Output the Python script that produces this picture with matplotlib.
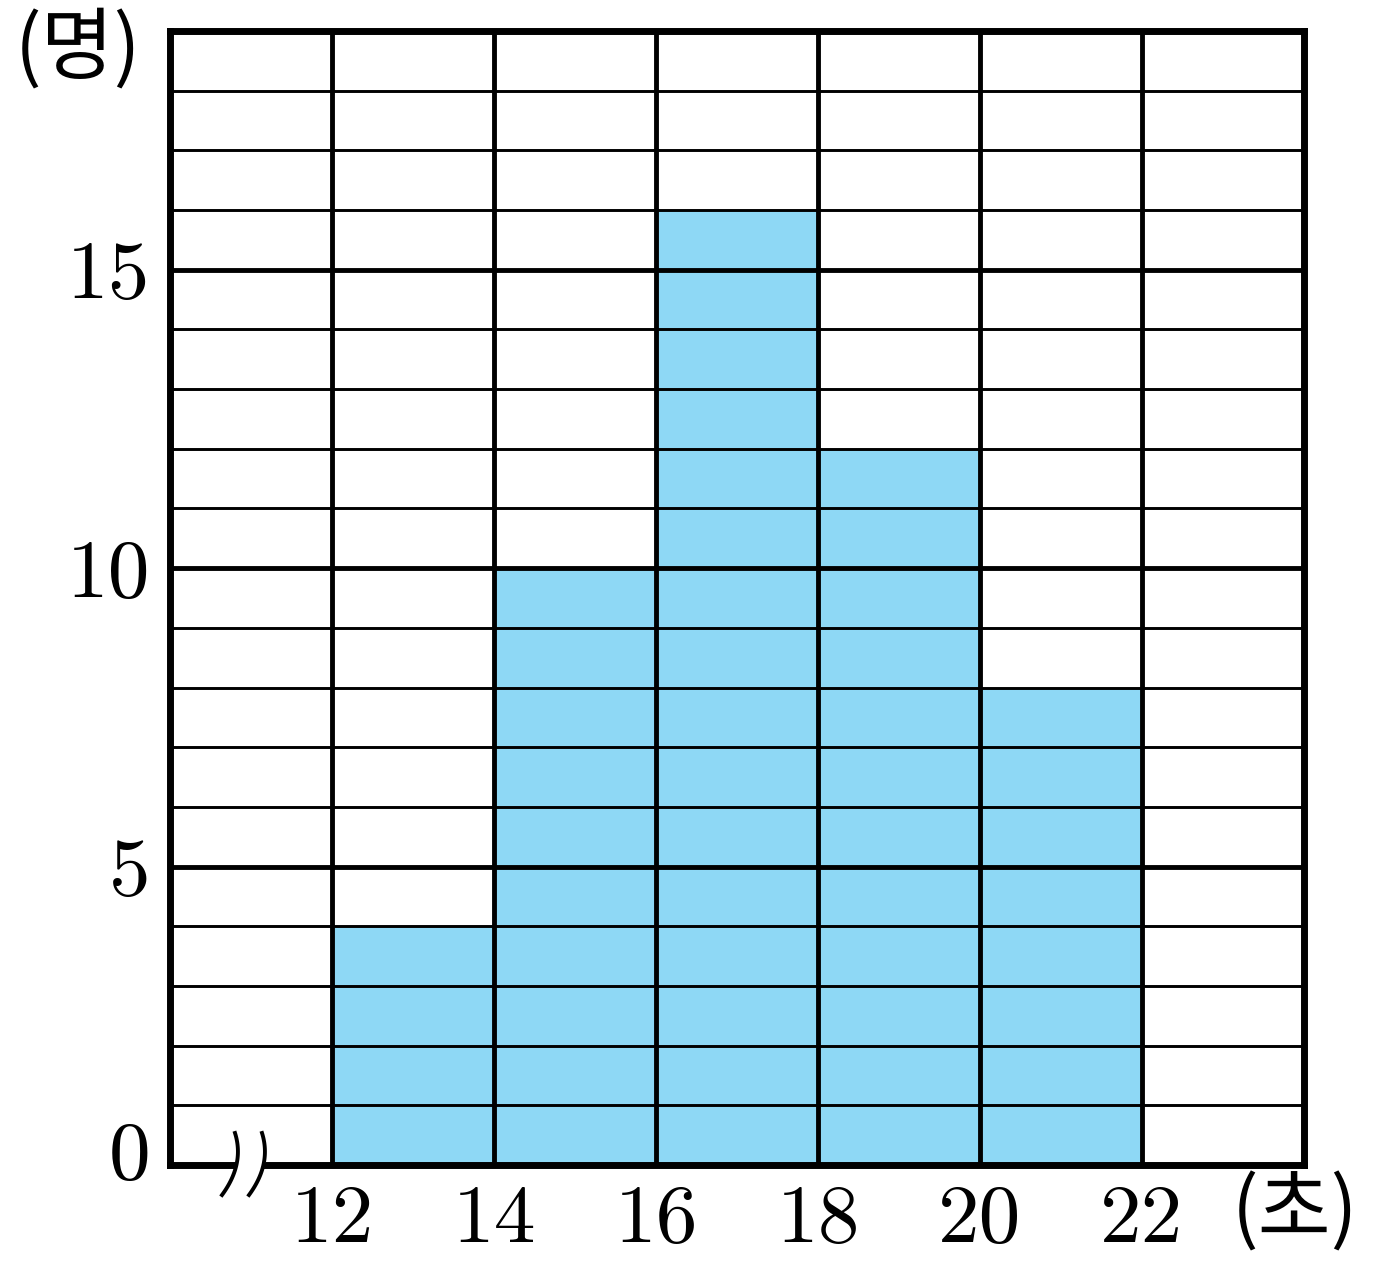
import matplotlib
matplotlib.use('Agg')
import matplotlib.pyplot as plt
from matplotlib.transforms import ScaledTranslation
import numpy as np

# histogram data
bin_edges = [12, 14, 16, 18, 20, 22]
counts = [4, 10, 16, 12, 8]
x_ticks = [12, 14, 16, 18, 20, 22]
y_ticks = [0, 5, 10, 15]
y_unit = '(명)'
x_unit = '(초)'

num_font = 'cmr10'
kor_font = ['Noto Sans CJK KR', 'DejaVu Sans']

fig = plt.figure(figsize=(13.76, 12.67), dpi=100)
ax = fig.add_axes([170/1376, 1 - 1165/1267, 1134/1376, 1134/1267])
ax.set_xlim(10, 24)
ax.set_ylim(0, 19)

ax.bar(bin_edges[:-1], counts, width=np.diff(bin_edges), align='edge',
       color='#8ed8f5', edgecolor='none', zorder=1)

# grid
for y in range(1, 19):
    lw = 3.5 if y % 5 == 0 else 2.1
    ax.axhline(y, color='black', lw=lw, zorder=2)
for x in range(12, 24, 2):
    ax.axvline(x, color='black', lw=3.5, zorder=2)

for s in ax.spines.values():
    s.set_linewidth(5)
    s.set_zorder(3)

ax.set_xticks(x_ticks)
ax.set_yticks(y_ticks)
ax.tick_params(length=0, pad=14)
ax.set_xticklabels([str(v) for v in x_ticks], fontfamily=num_font, fontsize=60)
ax.set_yticklabels([str(v) for v in y_ticks], fontfamily=num_font, fontsize=60)
for lab in ax.get_yticklabels():
    lab.set_verticalalignment('center_baseline')
# the 0 label sits a little higher in the original
zero = ax.get_yticklabels()[0]
zero.set_transform(zero.get_transform() + ScaledTranslation(0, 0.15, fig.dpi_scale_trans))

# axis break mark on the x axis
t = np.linspace(0, 1, 60)
px = 235 + 19.5 * t - 32.5 * t ** 2
py = 1133 + 62 * t
bx = 10 + (px - 170) / 81
by = (1165 - py) / 59.68
gap = 27 / 81
ax.fill_betweenx(by, bx, bx + gap, color='white', zorder=4, clip_on=False)
ax.plot(bx, by, color='black', lw=2.8, zorder=5, clip_on=False)
ax.plot(bx + gap, by, color='black', lw=2.8, zorder=5, clip_on=False)

fig.text(78/1376, 1 - 50/1267, y_unit, family=kor_font, fontsize=57,
         ha='center', va='center')
fig.text(1295/1376, 1 - 1213/1267, x_unit, family=kor_font, fontsize=57,
         ha='center', va='center')

fig.savefig('out.png', dpi=100)
